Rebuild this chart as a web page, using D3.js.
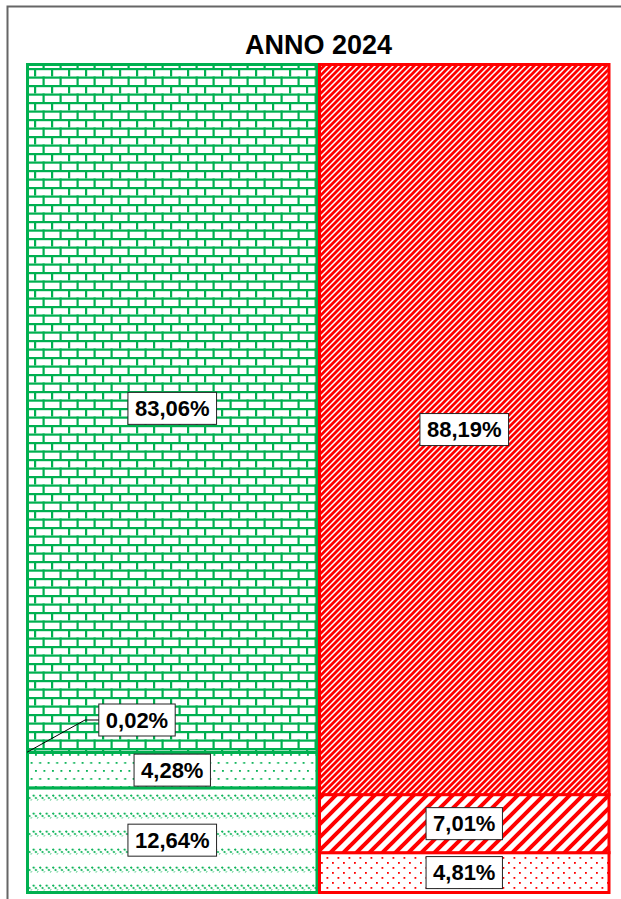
<!DOCTYPE html>
<html><head><meta charset="utf-8">
<script src="https://cdn.jsdelivr.net/npm/d3@7"></script>
<style>html,body{margin:0;padding:0;background:#fff;}svg{display:block;}</style>
</head><body>
<svg id="chart" width="621" height="899"></svg>
<script>
// ---- data ----
const title = "ANNO 2024";
const categories = ["Verde", "Rosso"];
const greenValues = [12.64, 4.28, 0.02, 83.06];
const greenLabels = ["12,64%", "4,28%", "0,02%", "83,06%"];
const redValues = [4.81, 7.01, 88.19];
const redLabels = ["4,81%", "7,01%", "88,19%"];

const GREEN = "#00B050", RED = "#FF0000";
const svg = d3.select("#chart");
const defs = svg.append("defs");

function pattern(id, w, h, draw) {
  const p = defs.append("pattern").attr("id", id).attr("patternUnits", "userSpaceOnUse")
    .attr("width", w).attr("height", h);
  p.append("rect").attr("width", w).attr("height", h).attr("fill", "#fff");
  draw(p);
}
// bricks
pattern("bricks", 17, 17, p => {
  p.append("rect").attr("x", 0).attr("y", 0).attr("width", 17).attr("height", 2.2).attr("fill", GREEN);
  p.append("rect").attr("x", 0).attr("y", 8.5).attr("width", 17).attr("height", 2.2).attr("fill", GREEN);
  p.append("rect").attr("x", 0).attr("y", 0).attr("width", 2.2).attr("height", 8.5).attr("fill", GREEN);
  p.append("rect").attr("x", 8.5).attr("y", 8.5).attr("width", 2.2).attr("height", 8.5).attr("fill", GREEN);
});
// green dots
pattern("gdots", 8.5, 16, p => {
  p.append("rect").attr("x", 1).attr("y", 2).attr("width", 1.8).attr("height", 1.8).attr("fill", GREEN);
  p.append("rect").attr("x", 5.25).attr("y", 10).attr("width", 1.8).attr("height", 1.8).attr("fill", GREEN);
});
// green diagonal dashes
pattern("gdash", 6.5, 18, p => {
  p.append("path").attr("d", "M0.5,3 L5.5,8").attr("stroke", GREEN).attr("stroke-width", 1.8)
    .attr("stroke-dasharray", "2,1.2").attr("fill", "none");
});
// red fine diagonal
pattern("rfine", 6, 6, p => {
  p.append("path").attr("d", "M-1,7 L7,-1 M-4,4 L4,-4 M2,10 L10,2").attr("stroke", RED).attr("stroke-width", 2.8);
});
// red wide diagonal
pattern("rwide", 13, 13, p => {
  p.append("path").attr("d", "M-2,15 L15,-2 M-8,8 L8,-8 M5,21 L21,5").attr("stroke", RED).attr("stroke-width", 4);
});
// red dots
pattern("rdots", 11, 10, p => {
  p.append("rect").attr("x", 2).attr("y", 2).attr("width", 1.8).attr("height", 1.8).attr("fill", RED);
  p.append("rect").attr("x", 7.5).attr("y", 7).attr("width", 1.8).attr("height", 1.8).attr("fill", RED);
});

const greenFills = ["url(#gdash)", "url(#gdots)", "url(#gdots)", "url(#bricks)"];
const redFills = ["url(#rdots)", "url(#rwide)", "url(#rfine)"];

// frame
svg.append("path").attr("d", "M7.5,899 V6.5 H621").attr("fill", "none").attr("stroke", "#666").attr("stroke-width", 2);

// title
svg.append("text").attr("x", 318.5).attr("y", 54).attr("text-anchor", "middle")
  .attr("font-family", "Liberation Sans, Arial, sans-serif").attr("font-weight", "bold")
  .attr("font-size", 27).text(title);

const x = d3.scaleBand().domain(categories).range([27.5, 609]).paddingInner(0.0086).paddingOuter(0);
const y = d3.scaleLinear().domain([0, 100]).range([892.5, 64.5]);

function stackSeries(vals) {
  let acc = 0;
  return vals.map(v => { const s = { y0: acc, y1: acc + v, v }; acc += v; return s; });
}
const series = [
  { cat: categories[0], segs: stackSeries(greenValues), labels: greenLabels, fills: greenFills, color: GREEN },
  { cat: categories[1], segs: stackSeries(redValues), labels: redLabels, fills: redFills, color: RED }
];

series.forEach(s => {
  const g = svg.append("g");
  g.selectAll("rect").data(s.segs).join("rect")
    .attr("x", x(s.cat)).attr("width", x.bandwidth())
    .attr("y", d => y(Math.min(d.y1, 100))).attr("height", d => y(d.y0) - y(Math.min(d.y1, 100)))
    .attr("fill", (d, i) => s.fills[i]).attr("stroke", s.color).attr("stroke-width", 3);
});

// labels
const fontSize = 22;
function label(txt, cx, cy) {
  const g = svg.append("g");
  const t = g.append("text").attr("x", cx).attr("y", cy).attr("text-anchor", "middle")
    .attr("dominant-baseline", "central")
    .attr("font-family", "Liberation Sans, Arial, sans-serif").attr("font-weight", "bold")
    .attr("font-size", fontSize).attr("fill", "#000").text(txt);
  const w = t.node().getComputedTextLength() + 14;
  const h = 32;
  g.insert("rect", "text").attr("x", cx - w / 2).attr("y", cy - h / 2).attr("width", w).attr("height", h)
    .attr("fill", "#fff").attr("stroke", "#222").attr("stroke-width", 1);
  return { w, h };
}

series.forEach(s => {
  const cx = x(s.cat) + x.bandwidth() / 2;
  s.segs.forEach((d, i) => {
    if (d.v < 1) {
      // small segment: label offset with leader line
      const yy = y(d.y1);
      const bx = 137, by = 720;
      const r = label(s.labels[i], bx, by);
      svg.append("path").attr("d", `M${x(s.cat) - 0.5},${yy} L85,${by} L${bx - r.w / 2},${by}`)
        .attr("fill", "none").attr("stroke", "#000").attr("stroke-width", 1);
    } else {
      label(s.labels[i], cx, (y(d.y0) + y(Math.min(d.y1, 100))) / 2);
    }
  });
});
</script>
</body></html>
